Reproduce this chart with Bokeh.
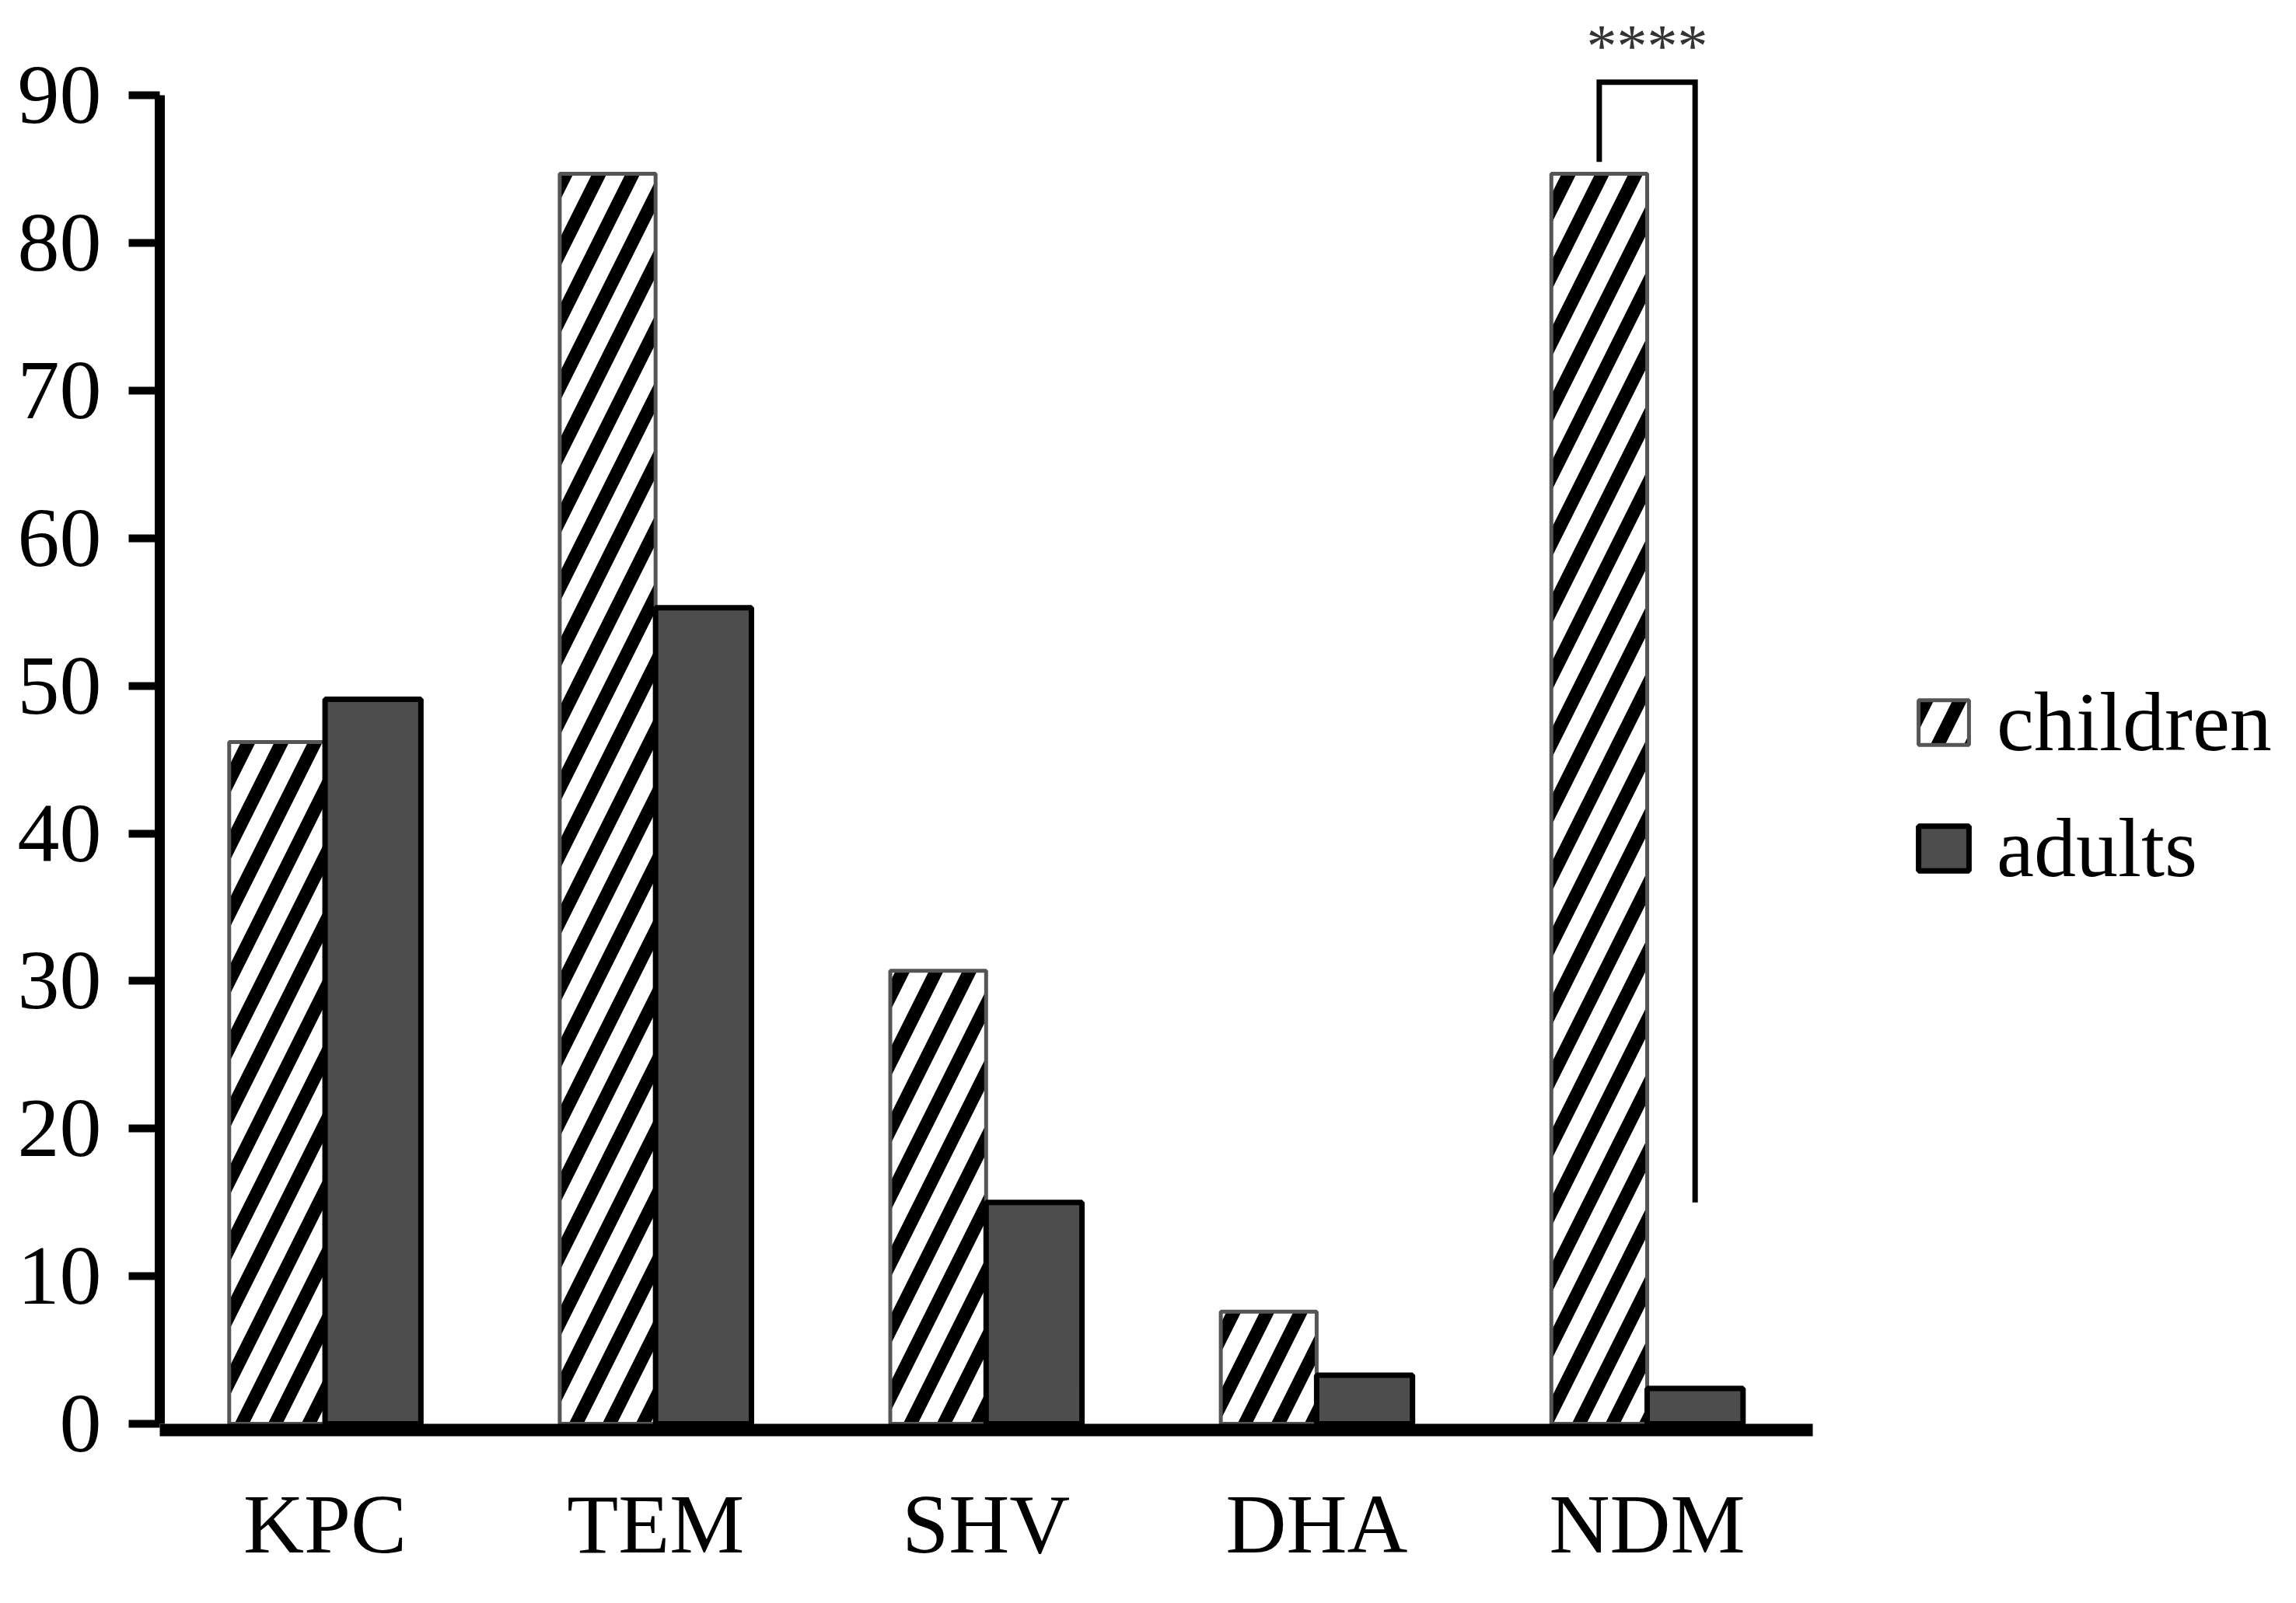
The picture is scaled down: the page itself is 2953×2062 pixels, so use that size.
from bokeh.plotting import figure
from bokeh.models import ColumnDataSource, Range1d, Legend, LegendItem, FixedTicker
from bokeh.core.properties import value
from bokeh.embed import file_html
from bokeh.resources import INLINE

# ---- data ----
genes = ["KPC", "TEM", "SHV", "DHA", "NDM"]
children = [46.2, 84.7, 30.7, 7.6, 84.7]
adults = [49.1, 55.3, 15.0, 3.3, 2.4]
y_ticks = [0, 10, 20, 30, 40, 50, 60, 70, 80, 90]
series_names = ["children", "adults"]

sig_gene = "NDM"
sig_label = "****"
bracket_top = 90.9
bracket_left_bottom = 85.5
bracket_right_bottom = 15.0
sig_label_y = 93.4

FONT = "Liberation Serif"
OFF = 0.145
BAR_W = 0.29

idx = list(range(len(genes)))
src = ColumnDataSource(dict(
    pos=idx,
    xc=[i - OFF for i in idx],
    xa=[i + OFF for i in idx],
    children=children, adults=adults))

p = figure(width=2930, height=2040,
           x_range=Range1d(-0.5, 5.91),
           y_range=Range1d(-0.42, 95.5),
           output_backend="svg", toolbar_location=None,
           min_border_left=205, min_border_right=0,
           min_border_top=18, min_border_bottom=201)

p.background_fill_color = "white"
p.border_fill_color = "white"
p.outline_line_color = None
p.grid.visible = False

r_child = p.vbar(x="xc", top="children", bottom=0, width=BAR_W, source=src,
                 fill_color="white", line_color="#555555", line_width=5,
                 hatch_pattern="/", hatch_color="black", hatch_weight=17, hatch_scale=86)
r_adult = p.vbar(x="xa", top="adults", bottom=0, width=BAR_W, source=src,
                 fill_color="#4d4d4d", line_color="black", line_width=7)

# significance bracket
gi = genes.index(sig_gene)
bx = [gi - OFF, gi - OFF, gi + OFF, gi + OFF]
by = [bracket_left_bottom, bracket_top, bracket_top, bracket_right_bottom]
p.line(x=bx, y=by, line_color="black", line_width=7, line_join="miter")
p.text(x=[gi], y=[sig_label_y], text=[sig_label], text_align="center",
       text_baseline="middle", text_font=value(FONT), text_font_size="78px",
       text_color="#333333")

# axes
ya = p.yaxis[0]
ya.ticker = FixedTicker(ticks=y_ticks)
ya.bounds = (0, 90)
ya.axis_line_width = 13
ya.axis_line_color = "black"
ya.major_tick_line_width = 10
ya.major_tick_line_color = "black"
ya.major_tick_out = 40
ya.major_tick_in = 0
ya.minor_tick_line_color = None
ya.major_label_text_font = FONT
ya.major_label_text_font_size = "108px"
ya.major_label_text_color = "black"
ya.major_label_standoff = 35

xa = p.xaxis[0]
xa.ticker = FixedTicker(ticks=idx)
xa.major_label_overrides = {i: g for i, g in zip(idx, genes)}
xa.bounds = (-0.57, 4.5)
xa.axis_line_width = 16
xa.axis_line_color = "black"
xa.major_tick_line_color = None
xa.minor_tick_line_color = None
xa.major_label_text_font = FONT
xa.major_label_text_font_size = "108px"
xa.major_label_text_color = "black"
xa.major_label_standoff = 55

legend = Legend(items=[LegendItem(label=series_names[0], renderers=[r_child]),
                       LegendItem(label=series_names[1], renderers=[r_adult])],
                location=(2254, 686), orientation="vertical",
                glyph_width=81, glyph_height=72, label_standoff=28,
                label_text_font=FONT, label_text_font_size="108px",
                label_text_color="black",
                spacing=38, padding=0, margin=0,
                border_line_color=None, background_fill_alpha=0)
p.add_layout(legend)

open("out.html", "w").write(file_html(p, INLINE))
